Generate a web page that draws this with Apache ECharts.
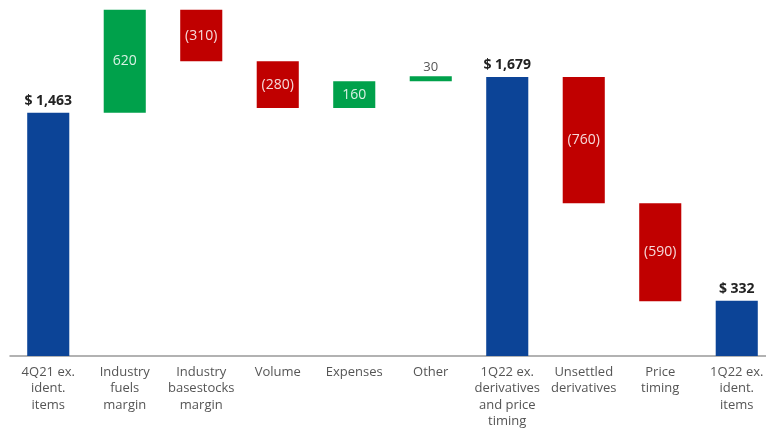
<!DOCTYPE html>
<html>
<head>
<meta charset="utf-8">
<script src="https://cdn.jsdelivr.net/npm/echarts@6/dist/echarts.min.js"></script>
<style>html,body{margin:0;padding:0;background:#fff}#c{width:766px;height:429px}</style>
</head>
<body>
<div id="c"></div>
<script>
var categories = [
  "4Q21 ex.\nident.\nitems",
  "Industry\nfuels\nmargin",
  "Industry\nbasestocks\nmargin",
  "Volume",
  "Expenses",
  "Other",
  "1Q22 ex.\nderivatives\nand price\ntiming",
  "Unsettled\nderivatives",
  "Price\ntiming",
  "1Q22 ex.\nident.\nitems"
];
var values = [1463, 620, -310, -280, 160, 30, 1679, -760, -590, 332];
var kinds = ["total", "delta", "delta", "delta", "delta", "delta", "total", "delta", "delta", "total"];

var BLUE = "#0C4497", GREEN = "#00A14B", RED = "#C00000";

var base = [], body = [];
var running = 0;
for (var i = 0; i < values.length; i++) {
  var v = values[i];
  if (kinds[i] === "total") {
    base.push(0);
    running = v;
    body.push({
      value: v,
      itemStyle: { color: BLUE },
      label: { show: true, position: "top", distance: 5, color: "#222", fontWeight: "bold", fontSize: 14,
        formatter: "$ " + v.toLocaleString("en-US") }
    });
  } else {
    var lo = v >= 0 ? running : running + v;
    base.push(lo);
    running += v;
    var txt = v >= 0 ? String(v) : "(" + Math.abs(v) + ")";
    var small = Math.abs(v) < 50;
    body.push({
      value: Math.abs(v),
      itemStyle: { color: v >= 0 ? GREEN : RED },
      label: small
        ? { show: true, position: "top", distance: 3, color: "#555", fontSize: 13, formatter: txt }
        : { show: true, position: "inside", color: "rgba(255,255,255,0.85)", fontSize: 14, formatter: txt }
    });
  }
}

var chart = echarts.init(document.getElementById("c"));
chart.setOption({
  animation: false,
  textStyle: { fontFamily: "Open Sans, Noto Sans, sans-serif" },
  grid: { left: 10, top: 7, right: -9, bottom: 73, containLabel: false, outerBoundsMode: "none" },
  xAxis: {
    type: "category",
    data: categories,
    axisLine: { show: true, lineStyle: { color: "#999", width: 1.5 } },
    axisTick: { show: false },
    axisLabel: { interval: 0, color: "#555", fontSize: 13, lineHeight: 16.5, margin: 8,
      fontFamily: "Open Sans, sans-serif" }
  },
  yAxis: {
    type: "value", min: 0, max: 2100,
    show: false,
    splitLine: { show: false }
  },
  series: [
    {
      type: "bar", stack: "w", data: base, barWidth: "55%",
      itemStyle: { color: "transparent" }, silent: true
    },
    {
      type: "bar", stack: "w", data: body, barWidth: "55%"
    }
  ]
});
</script>
</body>
</html>
